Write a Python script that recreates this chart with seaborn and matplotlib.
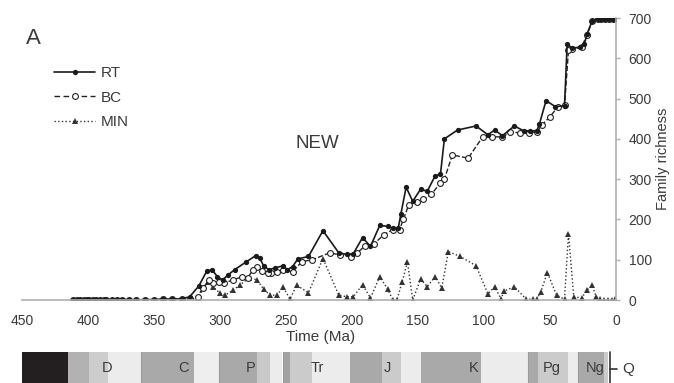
import numpy as np
import pandas as pd
import seaborn as sns
import matplotlib.pyplot as plt
from matplotlib.lines import Line2D

# Données (temps en Ma, richesse en familles)
early_ma = [411, 408, 406, 403, 401, 399, 396, 394, 391, 388, 386, 382, 378, 374,
            369, 364, 357, 350, 343, 336, 329]
early_val = [0, 0, 1, 0, 1, 1, 0, 1, 1, 0, 1, 1, 0, 1, 1, 0, 1, 1, 2, 2, 3]

rt_ma = early_ma + [323, 316, 310, 306, 302, 298, 294, 289, 280, 273, 270, 267, 263,
                    258, 252, 249, 245, 241, 233, 222, 210, 204, 199, 192, 186, 179,
                    173, 169, 165, 163, 159, 154, 148, 143, 137, 133, 130, 120, 106,
                    97, 92, 86, 77, 70, 65, 60, 58, 53, 46, 39, 37, 33, 27, 24, 22,
                    18, 14, 11, 8, 5, 2, 0.5]
rt_val = early_val + [8, 35, 72, 75, 58, 50, 62, 75, 95, 110, 105, 85, 75,
                      80, 85, 75, 83, 102, 108, 172, 117, 113, 115, 155, 133, 185,
                      183, 178, 178, 213, 280, 245, 275, 270, 308, 312, 400, 422, 432,
                      410, 422, 408, 432, 420, 420, 420, 437, 495, 480, 482, 635, 625,
                      628, 635, 660, 693, 698, 698, 698, 698, 698, 700]

bc_ma = early_ma + [323, 317, 313, 308, 305, 301, 297, 290, 283, 279, 275, 272, 268,
                    264, 261, 257, 252, 245, 238, 230, 217, 209, 201, 196, 190, 183,
                    176, 169, 164, 161, 157, 151, 146, 140, 133, 130, 124, 112, 101,
                    94, 86, 80, 73, 66, 60, 56, 50, 44, 39, 36, 33, 26, 22, 18, 14,
                    11, 8, 5, 2, 0.5]
bc_val = early_val + [3, 8, 30, 50, 42, 45, 42, 50, 58, 55, 75, 82, 73,
                      67, 67, 70, 75, 70, 95, 100, 117, 112, 107, 117, 135, 140,
                      162, 175, 175, 200, 237, 243, 250, 262, 290, 300, 360, 352, 405,
                      405, 405, 417, 415, 415, 417, 435, 455, 480, 483, 620, 622, 628,
                      658, 692, 698, 698, 698, 698, 698, 700]

min_ma = [323, 317, 309, 305, 300, 296, 290, 285, 278, 272, 267, 262, 257, 252, 247,
          242, 233, 222, 210, 204, 199, 192, 186, 179, 173, 169, 166, 162, 158, 154,
          148, 143, 137, 132, 127, 118, 106, 97, 92, 87, 85, 77, 68, 63, 60, 57, 52,
          45, 39, 36, 32, 26, 22, 18, 15, 12, 9, 6, 3, 1, 0.5]
min_val = [0, 5, 45, 32, 17, 12, 25, 37, 55, 50, 27, 12, 12, 32, 2,
           37, 18, 103, 12, 8, 8, 38, 5, 58, 27, 0, 0, 45, 95, 0,
           52, 33, 58, 30, 120, 108, 85, 15, 33, 2, 22, 33, 2, 2, 2, 20, 68,
           12, 2, 165, 8, 5, 25, 36, 8, 2, 1, 1, 1, 2, 1]

# Échelle des temps géologiques (début, fin en Ma, gris)
seg_start = [450, 415, 399, 385, 359, 320, 300, 272, 262, 252, 247, 230, 201.5, 177,
             163, 148, 102, 67, 59, 36, 28, 9]
seg_end = [415, 399, 385, 360, 320, 301, 272, 262, 253, 247, 230, 201.5, 177, 163,
           148, 102, 67, 59, 36, 29, 9, 6]
seg_color = ['#231f20', '#b2b2b2', '#cdcdcd', '#ececec', '#a9a9a9', '#eeeeee',
             '#a9a9a9', '#c9c9c9', '#ececec', '#a3a3a3', '#cbcbcb', '#ececec',
             '#a9a9a9', '#cbcbcb', '#ececec', '#a9a9a9', '#ececec', '#a9a9a9',
             '#cbcbcb', '#ececec', '#a9a9a9', '#cbcbcb']
period_bounds = [359.5, 301, 252.5, 67, 29]
period_names = ['D', 'C', 'P', 'Tr', 'J', 'K', 'Pg', 'Ng']
period_mid = [385.6, 328, 277, 226, 173.5, 108, 48.5, 16]

sns.set_style('white')
plt.rcParams['font.family'] = ['Liberation Sans', 'DejaVu Sans']
txt = '#3a3a3a'
axis_grey = '#b0b0b0'

fig = plt.figure(figsize=(6.74, 3.83), dpi=100)
ax = fig.add_axes([22 / 674, 83 / 383, 594 / 674, 282 / 383])

rt = pd.DataFrame({'age': rt_ma, 'n': rt_val})
bc = pd.DataFrame({'age': bc_ma, 'n': bc_val})
mn = pd.DataFrame({'age': min_ma, 'n': min_val})

sns.lineplot(data=mn, x='age', y='n', ax=ax, color='#333333', linestyle=':', lw=1.0,
             marker='^', markersize=3.8, markeredgewidth=0, estimator=None)
sns.lineplot(data=bc, x='age', y='n', ax=ax, color='#222222', linestyle='--', lw=1.0,
             dashes=(4, 2.5), marker='o', markersize=4.2, markerfacecolor='white',
             markeredgecolor='#222222', markeredgewidth=0.8, estimator=None)
sns.lineplot(data=rt, x='age', y='n', ax=ax, color='#1a1a1a', linestyle='-', lw=1.2,
             marker='o', markersize=3.8, markeredgewidth=0, estimator=None)

ax.set_xlim(450, 0)
ax.set_ylim(0, 700)
ax.set_xticks(np.arange(450, -1, -50))
ax.set_yticks(np.arange(0, 701, 100))
ax.yaxis.tick_right()
ax.yaxis.set_label_position('right')
for s in ['top', 'left']:
    ax.spines[s].set_visible(False)
for s in ['bottom', 'right']:
    ax.spines[s].set_color(axis_grey)
    ax.spines[s].set_linewidth(1.2)
ax.tick_params(axis='both', colors=axis_grey, length=3, width=1, labelsize=10,
               labelcolor=txt, pad=6)
ax.tick_params(axis='x', pad=7)

ax.set_xlabel('Time (Ma)', fontsize=11, color=txt)
ax.xaxis.set_label_coords(0.503, -0.131)
ax.xaxis.label.set_va('center')
ax.set_ylabel('Family richness', fontsize=10.5, color=txt, rotation=90)
ax.yaxis.set_label_coords(1.079, 0.5)
ax.yaxis.label.set_va('center')

handles = [
    Line2D([], [], color='#1a1a1a', lw=1.2, marker='o', markersize=3.8, markeredgewidth=0),
    Line2D([], [], color='#222222', lw=1.0, linestyle='--', dashes=(4, 2.5), marker='o',
           markersize=4.2, markerfacecolor='white', markeredgewidth=0.8),
    Line2D([], [], color='#333333', lw=1.0, linestyle=':', marker='^', markersize=3.8,
           markeredgewidth=0),
]
leg = fig.legend(handles, ['RT', 'BC', 'MIN'], loc='upper left',
                 bbox_to_anchor=(54 / 674, 1 - 66 / 383), frameon=False, fontsize=11,
                 handlelength=2.7, handletextpad=0.35, labelspacing=0.7,
                 borderpad=0, borderaxespad=0)
for t in leg.get_texts():
    t.set_color(txt)

fig.text(33 / 674, 1 - 38 / 383, 'A', fontsize=16, color=txt, ha='center', va='center')
fig.text(317 / 674, 1 - 144 / 383, 'NEW', fontsize=13.5, color=txt, ha='center', va='center')

# Barre de l'échelle géologique
bx = fig.add_axes([22 / 674, 0, 594 / 674, 31 / 383])
bx.barh(0.5, [a - b for a, b in zip(seg_start, seg_end)], left=seg_end, height=1,
        color=seg_color, linewidth=0)
for b in period_bounds:
    bx.axvline(b, color='#9a9a9a', lw=0.8)
bx.set_xlim(450, 0)
bx.set_ylim(0, 1)
bx.axis('off')
for name, m in zip(period_names, period_mid):
    bx.text(m, 0.47, name, fontsize=10.5, color=txt, ha='center', va='center')
bx.plot([4.5, 4.5], [0, 1], color='#333333', lw=1.2, clip_on=False)
bx.plot([4.5, -0.8], [0.45, 0.45], color='#333333', lw=1.2, clip_on=False)
bx.text(-9, 0.45, 'Q', fontsize=11, color=txt, ha='center', va='center')

fig.savefig('out.png', dpi=100)
